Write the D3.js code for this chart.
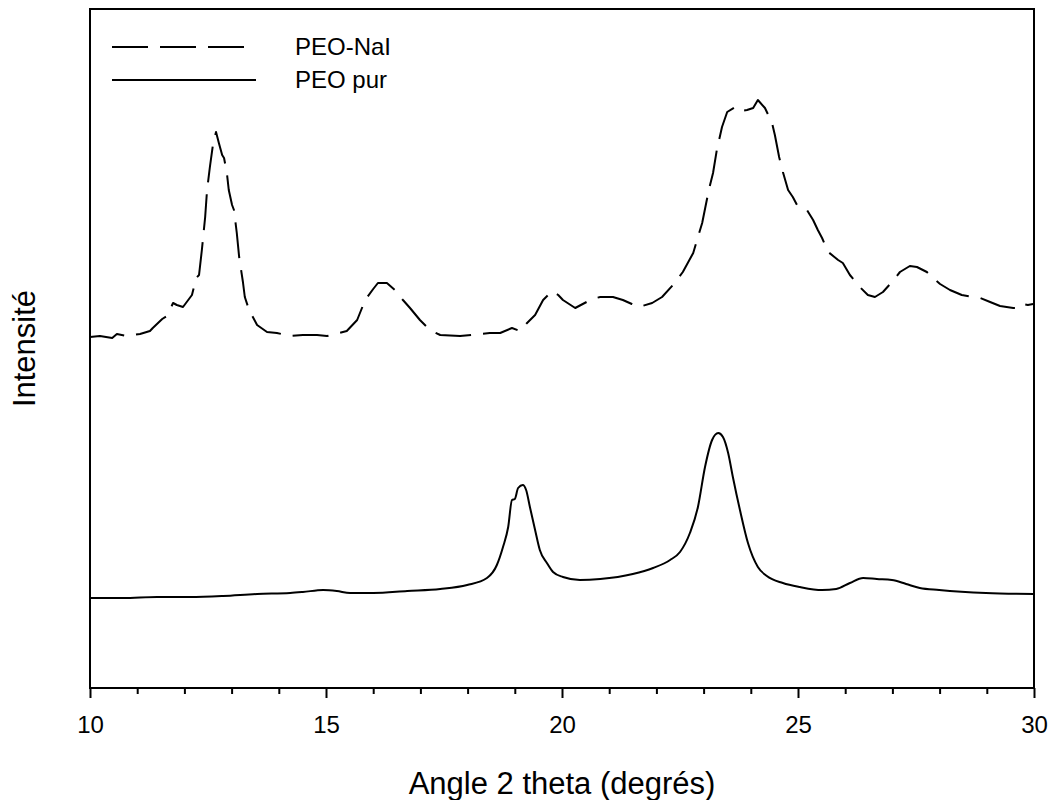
<!DOCTYPE html>
<html lang="fr">
<head>
<meta charset="utf-8">
<title>PEO-NaI / PEO pur</title>
<script src="https://cdn.jsdelivr.net/npm/d3@7"></script>
<style>
  body { margin: 0; background: #fff; }
  svg text { font-family: "Liberation Sans", Arial, sans-serif; fill: #000; }
  .frame { fill: none; stroke: #000; stroke-width: 2; }
  .curve { fill: none; stroke: #000; stroke-width: 2; stroke-linejoin: round; }
</style>
</head>
<body>
<div id="viz"></div>
<script>
// 2 theta (degrees) and intensity (arbitrary units)
var naiAngle = [10.00, 10.21, 10.47, 10.57, 10.78, 11.06, 11.27, 11.33, 11.53, 11.63, 11.76, 11.84, 11.97, 12.16, 12.25, 12.31, 12.37, 12.44, 12.48, 12.54, 12.61, 12.67, 12.73, 12.80, 12.84, 12.90, 12.94, 13.01, 13.05, 13.11, 13.16, 13.24, 13.28, 13.37, 13.45, 13.54, 13.75, 13.96, 14.24, 14.51, 14.81, 15.02, 15.21, 15.44, 15.66, 15.83, 16.00, 16.10, 16.29, 16.46, 16.63, 16.78, 16.99, 17.20, 17.42, 17.84, 18.26, 18.47, 18.69, 18.94, 19.11, 19.26, 19.43, 19.60, 19.79, 19.92, 20.02, 20.28, 20.44, 20.64, 20.81, 21.08, 21.29, 21.48, 21.63, 21.91, 22.12, 22.39, 22.56, 22.78, 22.88, 22.97, 23.11, 23.20, 23.28, 23.39, 23.50, 23.67, 23.77, 23.92, 24.05, 24.15, 24.30, 24.45, 24.51, 24.60, 24.68, 24.79, 24.89, 24.98, 25.19, 25.32, 25.42, 25.51, 25.64, 25.85, 25.95, 26.10, 26.31, 26.48, 26.63, 26.80, 26.99, 27.16, 27.37, 27.52, 27.73, 27.86, 28.01, 28.22, 28.47, 28.71, 28.86, 29.07, 29.28, 29.56, 29.66, 29.75, 29.87, 29.98];
var naiInt = [351, 352, 350, 354, 352, 354, 357, 360, 369, 372, 385, 383, 381, 393, 410, 413, 438, 471, 498, 521, 545, 556, 545, 533, 530, 515, 498, 483, 478, 455, 431, 406, 391, 378, 371, 363, 356, 355, 352, 353, 353, 352, 354, 357, 368, 388, 399, 405, 405, 398, 388, 380, 368, 358, 353, 352, 354, 355, 355, 360, 357, 365, 373, 388, 397, 393, 388, 380, 384, 389, 391, 391, 388, 384, 381, 385, 391, 405, 416, 435, 451, 465, 498, 515, 538, 561, 576, 581, 577, 578, 580, 588, 580, 565, 553, 531, 516, 498, 491, 483, 478, 468, 458, 450, 436, 428, 425, 413, 401, 393, 391, 396, 406, 416, 422, 421, 416, 410, 404, 398, 393, 391, 390, 386, 382, 380, 380, 384, 383, 384];

var purAngle = [10.00, 10.70, 11.42, 12.12, 12.82, 13.54, 14.24, 14.51, 14.94, 15.23, 15.51, 16.00, 16.72, 17.42, 17.99, 18.41, 18.62, 18.75, 18.86, 18.94, 19.00, 19.07, 19.17, 19.24, 19.32, 19.43, 19.53, 19.68, 19.81, 20.02, 20.38, 20.81, 21.50, 21.93, 22.29, 22.50, 22.71, 22.88, 23.03, 23.18, 23.31, 23.41, 23.52, 23.62, 23.77, 23.94, 24.15, 24.34, 24.68, 25.04, 25.51, 25.81, 26.10, 26.38, 26.67, 26.99, 27.29, 27.58, 27.99, 28.98, 30.00];
var purInt = [90, 90, 91, 91, 92, 94, 95, 96, 98, 97, 95, 95, 97, 99, 103, 110, 123, 141, 161, 188, 189, 200, 203, 198, 181, 158, 138, 125, 116, 111, 108, 109, 114, 120, 128, 136, 155, 181, 221, 248, 255, 251, 235, 211, 178, 145, 121, 112, 105, 101, 98, 99, 105, 110, 109, 108, 104, 100, 98, 95, 94];

var xTicks = [10, 15, 20, 25, 30];
var seriesNames = ["PEO-NaI", "PEO pur"];

(function(d3) {
	var w = 1050, h = 800;
	var margin = {top: 9, right: 16, bottom: 112, left: 90};
	var width = w - margin.left - margin.right,
		height = h - margin.top - margin.bottom;

	var svg = d3.select("#viz").append("svg")
		.attr("width", w)
		.attr("height", h);

	var g = svg.append("g")
		.attr("transform", "translate(" + margin.left + "," + margin.top + ")");

	// SCALES
	var x = d3.scaleLinear().domain([10, 30]).range([0, width]);
	var y = d3.scaleLinear().domain([0, 679]).range([height, 0]);

	var toPoints = function(xs, ys) {
		return xs.map(function(v, i) { return [v, ys[i]]; });
	};

	var lineRaw = d3.line()
		.x(function(d) { return x(d[0]); })
		.y(function(d) { return y(d[1]); });
	var lineSmooth = d3.line()
		.curve(d3.curveMonotoneX)
		.x(function(d) { return x(d[0]); })
		.y(function(d) { return y(d[1]); });

	// curves
	g.append("path")
		.datum(toPoints(naiAngle, naiInt))
		.attr("class", "curve")
		.attr("stroke-dasharray", "36,12")
		.attr("d", lineRaw);

	g.append("path")
		.datum(toPoints(purAngle, purInt))
		.attr("class", "curve")
		.attr("d", lineSmooth);

	// x axis: major ticks every 5, minor every 1
	var xAxis = d3.axisBottom(x)
		.tickValues(xTicks)
		.tickSize(10)
		.tickPadding(18)
		.tickFormat(d3.format("d"));
	var xMinor = d3.axisBottom(x)
		.tickValues(d3.range(10, 31).filter(function(v) { return v % 5 !== 0; }))
		.tickSize(6)
		.tickFormat("");

	var ax = g.append("g").attr("transform", "translate(0," + height + ")");
	ax.call(xAxis);
	ax.append("g").call(xMinor);
	ax.selectAll(".domain").remove();
	ax.selectAll(".tick line").attr("stroke", "#000").attr("stroke-width", 2);
	ax.selectAll(".tick text")
		.style("font-family", '"Liberation Sans", Arial, sans-serif')
		.style("font-size", "24px")
		.attr("fill", "#000");

	// frame
	g.append("rect")
		.attr("class", "frame")
		.attr("x", 0).attr("y", 0)
		.attr("width", width).attr("height", height);

	// axis titles
	svg.append("text")
		.attr("x", margin.left + width / 2)
		.attr("y", 794)
		.attr("text-anchor", "middle")
		.style("font-size", "31px")
		.text("Angle 2 theta (degrés)");

	svg.append("text")
		.attr("transform", "translate(35," + (margin.top + height / 2) + ") rotate(-90)")
		.attr("text-anchor", "middle")
		.style("font-size", "31px")
		.text("Intensité");

	// legend
	var legend = svg.append("g");
	var dashes = ["36,12", null];
	seriesNames.forEach(function(name, i) {
		var ly = 47 + i * 33;
		legend.append("line")
			.attr("x1", 112).attr("x2", 256)
			.attr("y1", ly).attr("y2", ly)
			.attr("stroke", "#000")
			.attr("stroke-width", 2)
			.attr("stroke-dasharray", dashes[i]);
		legend.append("text")
			.attr("x", 295)
			.attr("y", ly + 8)
			.style("font-size", "24px")
			.text(name);
	});
})(d3);
</script>
</body>
</html>
